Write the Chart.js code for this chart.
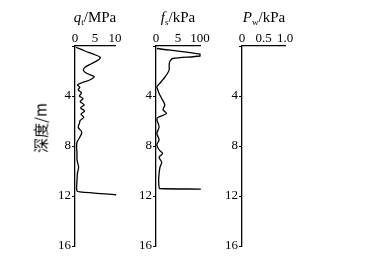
<!DOCTYPE html>
<html>
<head>
<meta charset="utf-8">
<script src="https://cdn.jsdelivr.net/npm/chart.js@4.4.1/dist/chart.umd.min.js"></script>
<style>
  html, body { margin: 0; padding: 0; background: #fff; }
  #wrap { position: relative; width: 368px; height: 257px; overflow: hidden; }
  canvas { position: absolute; top: 0; }
  .ttl { position: absolute; top: 9px; font: 15px "Liberation Serif", serif; color: #000; white-space: nowrap; transform: translateX(-50%); }
  .ttl sub { font-size: 9px; vertical-align: -3px; }
  #ylab { position: absolute; left: 40px; top: 128px; font: 15px "Noto Sans CJK SC", sans-serif; color: #000;
          white-space: nowrap; transform: translate(-50%, -50%) rotate(-90deg); }
</style>
</head>
<body>
<div id="wrap">
  <canvas id="qtChart" width="125" height="257" style="left:0px"></canvas>
  <canvas id="fsChart" width="89" height="257" style="left:125px"></canvas>
  <canvas id="pwChart" width="83" height="257" style="left:214px"></canvas>
  <div class="ttl" style="left:95px"><i>q</i><sub>t</sub>/MPa</div>
  <div class="ttl" style="left:178px"><i>f</i><sub>s</sub>/kPa</div>
  <div class="ttl" style="left:264px"><i>P</i><sub>w</sub>/kPa</div>
  <div id="ylab">深度/m</div>
</div>
<script>
// depth axis (0 is labelled by the top axis)
const depthTicks = [0, 4, 8, 12, 16];
const depthLabels = ['', '4', '8', '12', '16'];

// tick labels on the top axes
const qtTicks = ['0', '5', '10'];
const fsTicks = ['0', '5', '100'];
const pwTicks = ['0', '0.5', '1.0'];

// cone resistance q_t (MPa) vs depth (m)
const qtDepth = [0.1, 0.4, 0.7, 0.9, 1.1, 1.4, 1.7, 1.95, 2.2, 2.45, 2.7, 2.9, 3.1, 3.3, 3.5, 3.75, 4.0, 4.2, 4.45, 4.7, 4.95, 5.2, 5.45, 5.7, 5.95, 6.2, 6.5, 6.9, 7.3, 7.7, 8.1, 8.6, 9.1, 9.7, 10.2, 10.8, 11.3, 11.6, 11.67, 11.9];
const qtValue = [0.2, 2.5, 5.0, 6.3, 5.9, 4.2, 2.5, 2.1, 3.0, 4.8, 3.8, 2.0, 0.6, 1.2, 0.8, 1.6, 1.1, 2.0, 1.3, 2.3, 1.4, 2.4, 1.5, 2.2, 1.3, 1.1, 0.8, 1.7, 1.2, 0.5, 0.4, 0.5, 0.5, 0.9, 0.6, 0.5, 0.4, 0.5, 1.2, 10.3];

// sleeve friction f_s (kPa) vs depth (m)
const fsDepth = [0.2, 0.65, 0.8, 1.0, 1.2, 1.45, 1.9, 2.2, 2.5, 2.8, 3.05, 3.25, 3.5, 3.8, 4.2, 4.7, 5.1, 5.4, 5.7, 5.9, 6.2, 6.5, 7.0, 7.5, 7.9, 8.3, 8.6, 8.9, 9.3, 9.7, 10.2, 10.8, 11.3, 11.4, 11.45];
const fsValue = [2, 100, 100, 38, 32, 30, 30, 26, 20, 13, 7, 2, 4, 7, 13, 20, 16, 24, 5, 2, 5, 7, 2, 7, 2, 7, 15, 7, 13, 9, 7, 6, 7, 8, 102];

// pore pressure P_w (kPa) - no record
const pwDepth = [];
const pwValue = [];

Chart.defaults.font.family = 'Liberation Serif';
const tickFont = { family: 'Liberation Serif', size: 13 };

function toPoints(depth, value) {
    return depth.map((d, i) => ({ x: value[i], y: d }));
}

function makePanel(id, depth, value, xMax, xTicks, yWidth, padRight) {
    const ctx = document.getElementById(id).getContext('2d');
    return new Chart(ctx, {
        type: 'scatter',
        data: {
            datasets: [{
                data: toPoints(depth, value),
                showLine: true,
                borderColor: '#000',
                borderWidth: 1.3,
                pointRadius: 0,
                tension: 0.3,
                clip: false
            }]
        },
        options: {
            responsive: false,
            animation: false,
            layout: { padding: { left: 0, right: padRight, top: 0, bottom: 11 } },
            plugins: { legend: { display: false }, tooltip: { enabled: false } },
            scales: {
                x: {
                    type: 'linear',
                    position: 'top',
                    min: 0,
                    max: xMax,
                    ticks: {
                        stepSize: xMax / 2,
                        autoSkip: false,
                        maxRotation: 0,
                        padding: 0,
                        color: '#000',
                        font: tickFont,
                        callback: (v, i) => xTicks[i]
                    },
                    grid: { drawOnChartArea: false, tickLength: 0, color: '#000' },
                    border: { color: '#000', width: 1.3 },
                    afterFit: s => { s.height = 46; }
                },
                y: {
                    type: 'linear',
                    reverse: true,
                    min: 0,
                    max: 16,
                    afterBuildTicks: s => { s.ticks = depthTicks.map(v => ({ value: v })); },
                    ticks: {
                        padding: 1,
                        color: '#000',
                        font: tickFont,
                        callback: (v, i) => depthLabels[i]
                    },
                    grid: { drawOnChartArea: false, tickLength: 3, color: '#000' },
                    border: { color: '#000', width: 1.3 },
                    afterFit: s => { s.width = yWidth; }
                }
            }
        }
    });
}

makePanel('qtChart', qtDepth, qtValue, 10, qtTicks, 75, 10);
makePanel('fsChart', fsDepth, fsValue, 100, fsTicks, 31, 14);
makePanel('pwChart', pwDepth, pwValue, 1, pwTicks, 28, 12);
</script>
</body>
</html>
